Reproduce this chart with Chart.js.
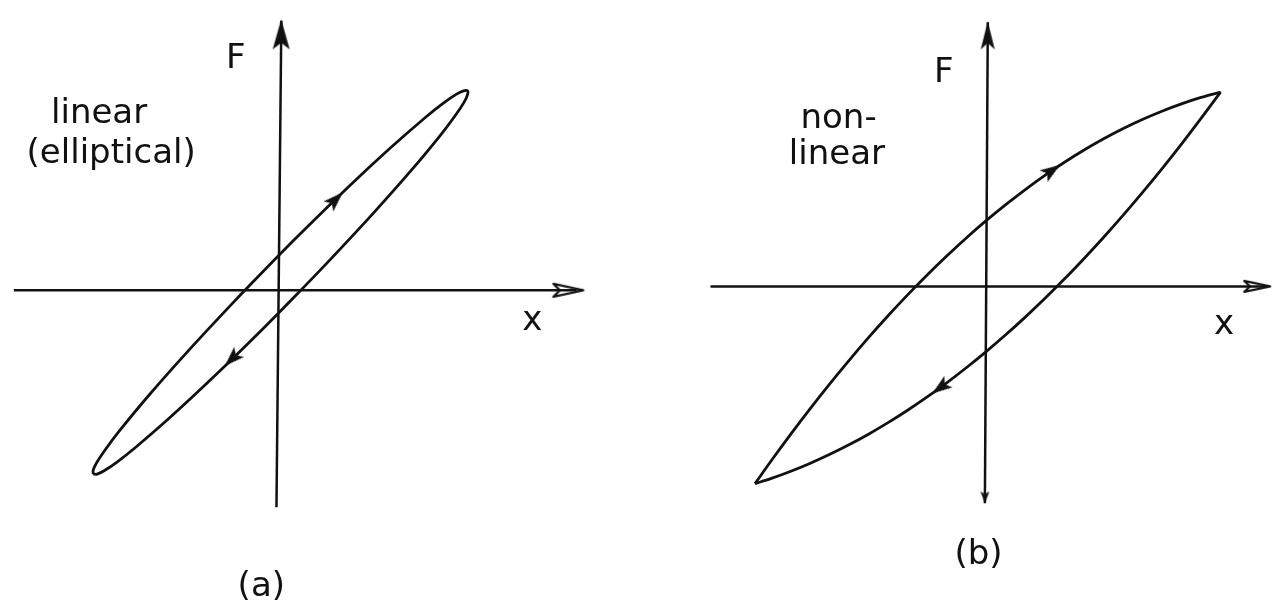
<!DOCTYPE html>
<html>
<head>
<meta charset="utf-8">
<script src="https://cdn.jsdelivr.net/npm/chart.js@4.4.1/dist/chart.umd.min.js"></script>
<style>
    html, body { margin: 0; padding: 0; background: #fff; }
    #wrap { position: relative; width: 1276px; height: 605px; overflow: hidden; }
    #wrap canvas { position: absolute; top: 0; }
    #loopLinear { left: 0; }
    #loopNonLinear { left: 638px; }
</style>
</head>
<body>
<div id="wrap">
    <canvas id="loopLinear" width="638" height="605"></canvas>
    <canvas id="loopNonLinear" width="638" height="605"></canvas>
</div>
<script>
// (a) linear damping: narrow elliptical loop, traced from the lower-left tip
// up the upper branch and back along the lower one
const ellipseX = [-18.93, -18.94, -18.59, -17.74, -16.30, -13.22, -9.22, -4.58, -1.27, 2.08, 6.96, 11.38, 15.02, 16.90, 18.17, 18.93, 19.33,
                  19.34, 18.99, 18.14, 16.70, 13.62, 9.62, 4.98, 1.67, -1.68, -6.56, -10.98, -14.62, -16.50, -17.78, -18.54, -18.93];
const ellipseF = [-18.82, -18.42, -17.66, -16.37, -14.45, -10.72, -6.20, -1.21, 2.23, 5.63, 10.40, 14.51, 17.69, 19.18, 20.05, 20.42, 20.42,
                  20.02, 19.26, 17.97, 16.05, 12.32, 7.80, 2.81, -0.63, -4.03, -8.80, -12.92, -16.09, -17.58, -18.45, -18.82, -18.82];

// (b) non-linear loop: two curved branches sharing the same x stations,
// meeting in sharp corners at both ends
const branchX = [-23.6, -22, -20, -18, -16, -14, -12, -10, -8, -6, -4, -2, 0, 2, 4, 6, 8, 10, 12, 14, 16, 18, 20, 22, 24];
const upperF = [-20.19, -17.93, -15.20, -12.56, -10.02, -7.59, -5.25, -3.01, -0.87, 1.17, 3.11, 4.96, 6.70,
                8.34, 9.89, 11.34, 12.68, 13.93, 15.08, 16.13, 17.08, 17.93, 18.68, 19.34, 19.89];
const lowerF = [-20.19, -19.68, -18.95, -18.13, -17.22, -16.22, -15.13, -13.95, -12.68, -11.32, -9.87, -8.33, -6.70,
                -4.98, -3.17, -1.27, 0.72, 2.81, 4.98, 7.24, 9.59, 12.03, 14.56, 17.19, 19.89];

// direction arrows sitting on the loops (upper branch, lower branch)
const arrowsAX = [5.85, -4.75];
const arrowsAF = [9.3, -7.03];
const arrowsBX = [6.75, -4.65];
const arrowsBF = [11.86, -10.36];

// axis extents: x from left end to right end, F from top to bottom
const axisAX = [-27.05, 30.5];
const axisAF = [27.6, -22.2];
const axisBX = [-28.15, 28.6];
const axisBF = [27.05, -22.2];

const INK = "#111";
const FONT = '34px "DejaVu Sans"';

document.addEventListener("DOMContentLoaded", () => {

    function toPoints(xs, ys) {
        return xs.map((x, i) => ({ x: x, y: ys[i] }));
    }

    // arrow head drawn pointing up; the chart rotates it into place
    function makeArrowHead(length, width, hollow) {
        const c = document.createElement("canvas");
        c.width = Math.ceil(width + 4);
        c.height = Math.ceil(length + 4);
        const g = c.getContext("2d");
        const mid = c.width / 2;
        g.beginPath();
        g.moveTo(mid, 2);
        g.lineTo(2, length + 2);
        g.lineTo(mid, length * 0.78 + 2);
        g.lineTo(c.width - 2, length + 2);
        g.closePath();
        if (hollow) {
            g.lineWidth = 2.2;
            g.lineJoin = "round";
            g.strokeStyle = INK;
            g.stroke();
        } else {
            g.fillStyle = INK;
            g.fill();
        }
        return c;
    }

    const loopHead = makeArrowHead(20, 14, false);
    const topHead = makeArrowHead(30, 17, false);
    const topHeadSmall = makeArrowHead(28, 14, false);
    const sideHead = makeArrowHead(30, 13, true);
    const sideHeadSmall = makeArrowHead(26, 11, true);
    const bottomHead = makeArrowHead(12, 9, false);

    const labelPlugin = {
        id: "panelLabels",
        afterDatasetsDraw(chart, args, opts) {
            const ctx = chart.ctx;
            const sx = chart.scales.x;
            const sy = chart.scales.y;
            ctx.save();
            ctx.fillStyle = INK;
            ctx.font = FONT;
            ctx.textBaseline = "alphabetic";
            (opts.items || []).forEach(l => {
                ctx.textAlign = l.align;
                ctx.fillText(l.text, sx.getPixelForValue(l.x), sy.getPixelForValue(l.y));
            });
            ctx.restore();
        }
    };

    function lineSet(points, width, smooth) {
        const ds = {
            data: points,
            showLine: true,
            borderColor: INK,
            borderWidth: width,
            pointRadius: 0,
            tension: 0,
            fill: false,
            clip: false
        };
        if (smooth === "monotone") {
            ds.cubicInterpolationMode = "monotone";
        } else if (smooth) {
            ds.tension = smooth;
        }
        return ds;
    }

    function buildChart(canvasId, loops, axisX, axisF, axisTilt, markers, range, labels) {
        const ctx = document.getElementById(canvasId).getContext("2d");
        const datasets = [
            lineSet([{ x: axisX[0], y: 0 }, { x: axisX[1], y: 0 }], 2.5, 0),
            lineSet([{ x: axisTilt[0], y: axisF[0] }, { x: axisTilt[1], y: axisF[1] }], 2.5, 0)
        ];
        loops.forEach(l => datasets.push(lineSet(l.points, 2.8, l.smooth)));
        datasets.push({
            data: markers.points,
            showLine: false,
            pointRadius: 6,
            pointStyle: markers.styles,
            rotation: markers.rotations,
            clip: false
        });

        return new Chart(ctx, {
            type: "scatter",
            data: { datasets: datasets },
            options: {
                responsive: false,
                animation: false,
                events: [],
                layout: { padding: 0 },
                plugins: {
                    legend: { display: false },
                    tooltip: { enabled: false },
                    panelLabels: { items: labels }
                },
                scales: {
                    x: { type: "linear", display: false, min: range.xMin, max: range.xMax },
                    y: { type: "linear", display: false, min: range.yMin, max: range.yMax }
                }
            },
            plugins: [labelPlugin]
        });
    }

    // panel (a)
    buildChart(
        "loopLinear",
        [{ points: toPoints(ellipseX, ellipseF), smooth: 0.3 }],
        axisAX, axisAF, [0.3, -0.2],
        {
            points: toPoints(arrowsAX, arrowsAF).concat([{ x: 0.28, y: 26.2 }, { x: 29.65, y: 0 }]),
            styles: [loopHead, loopHead, topHead, sideHead],
            rotations: [45.6, 225.6, 0, 90]
        },
        { xMin: -27.75, xMax: 36.05, yMin: -31.5, yMax: 29.0 },
        [
            { text: "F", x: -4.35, y: 22.8, align: "center" },
            { text: "linear", x: -23.25, y: 17.1, align: "left" },
            { text: "(elliptical)", x: -25.75, y: 13.0, align: "left" },
            { text: "x", x: 25.95, y: -4.1, align: "center" },
            { text: "(a)", x: -1.75, y: -31.3, align: "center" }
        ]
    );

    // panel (b)
    buildChart(
        "loopNonLinear",
        [
            { points: toPoints(branchX, upperF), smooth: "monotone" },
            { points: toPoints(branchX, lowerF), smooth: "monotone" }
        ],
        axisBX, axisBF, [0.2, -0.1],
        {
            points: toPoints(arrowsBX, arrowsBF).concat([{ x: 0.19, y: 25.7 }, { x: 27.75, y: 0 }, { x: -0.09, y: -21.6 }]),
            styles: [loopHead, loopHead, topHeadSmall, sideHeadSmall, bottomHead],
            rotations: [55.8, 233.8, 0, 90, 180]
        },
        { xMin: -34.85, xMax: 28.95, yMin: -31.9, yMax: 28.6 },
        [
            { text: "F", x: -4.3, y: 20.9, align: "center" },
            { text: "non-", x: -18.95, y: 16.2, align: "left" },
            { text: "linear", x: -20.15, y: 12.5, align: "left" },
            { text: "x", x: 24.35, y: -4.9, align: "center" },
            { text: "(b)", x: -0.75, y: -28.4, align: "center" }
        ]
    );
});
</script>
</body>
</html>
